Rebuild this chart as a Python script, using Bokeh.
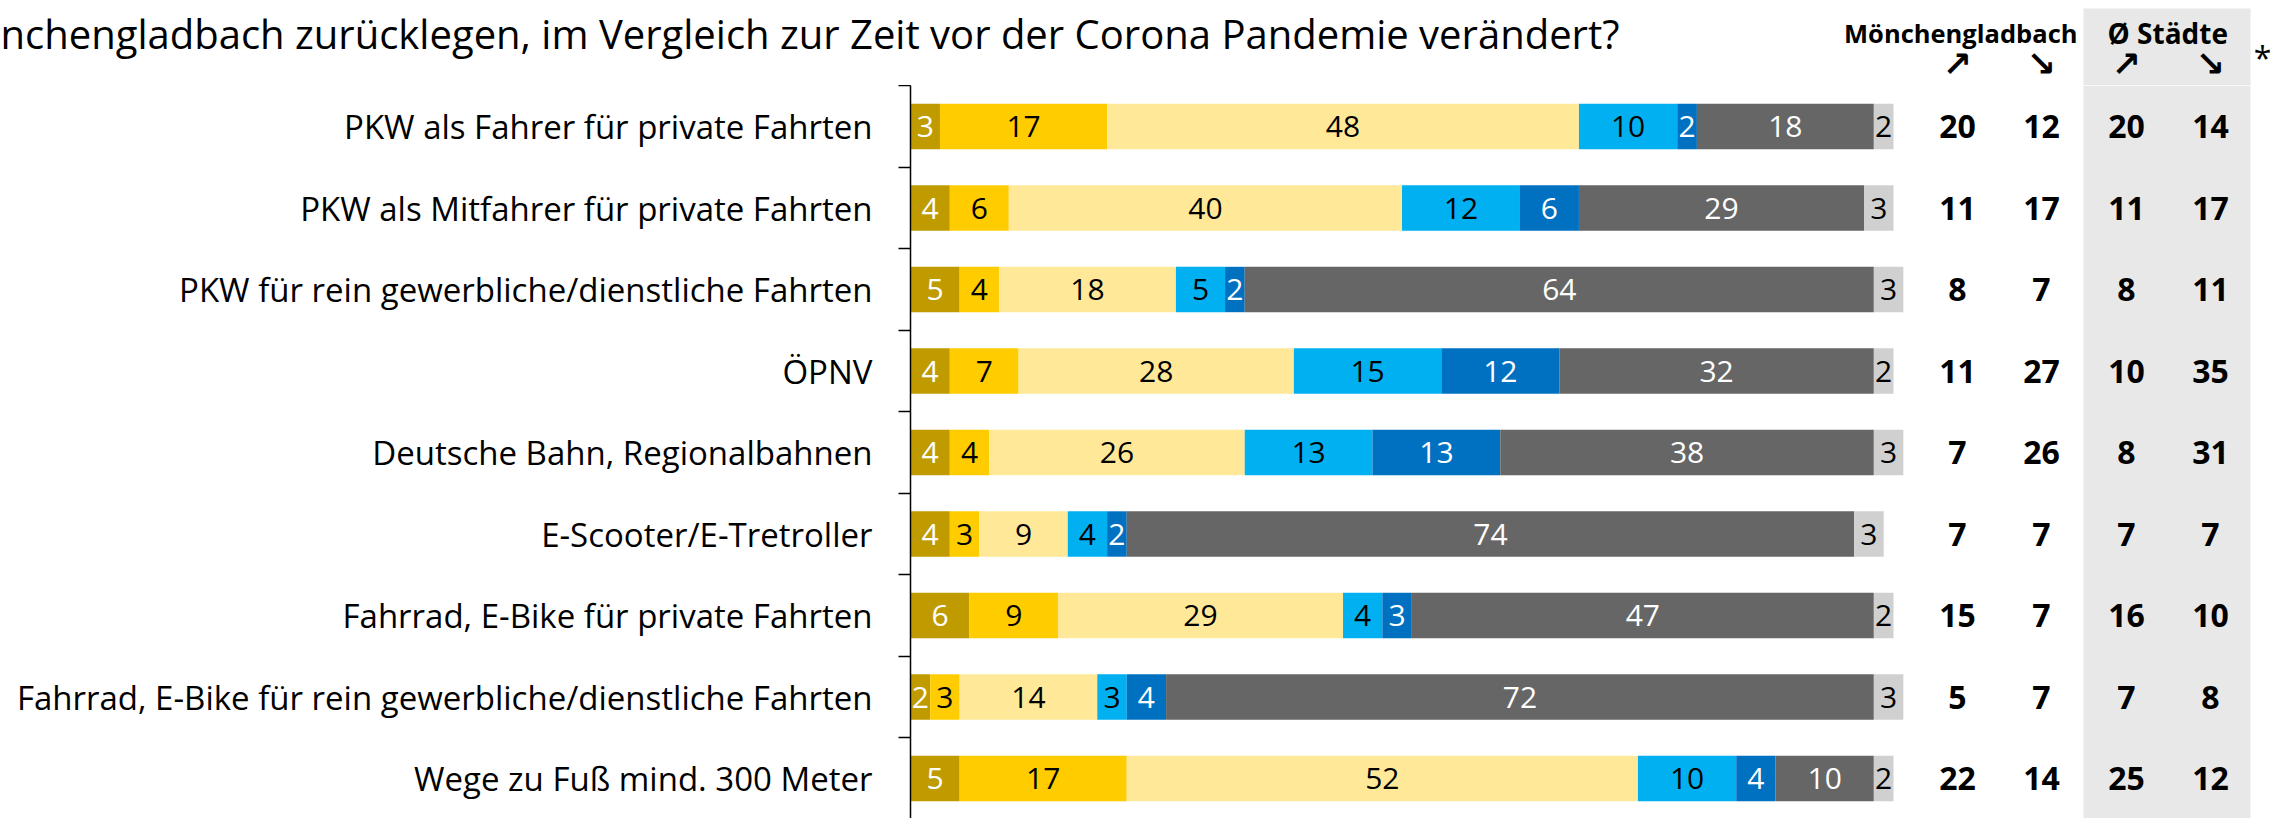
from bokeh.plotting import figure
from bokeh.layouts import column
from bokeh.models import Range1d, FixedTicker
from bokeh.core.properties import value
from bokeh.embed import file_html
from bokeh.resources import INLINE
import numpy as np

# ---------------- data ----------------
categories = [
    "PKW als Fahrer für private Fahrten",
    "PKW als Mitfahrer für private Fahrten",
    "PKW für rein gewerbliche/dienstliche Fahrten",
    "ÖPNV",
    "Deutsche Bahn, Regionalbahnen",
    "E-Scooter/E-Tretroller",
    "Fahrrad, E-Bike für private Fahrten",
    "Fahrrad, E-Bike für rein gewerbliche/dienstliche Fahrten",
    "Wege zu Fuß mind. 300 Meter",
]
series_names = ["viel häufiger", "etwas häufiger", "gleich geblieben", "etwas seltener",
                "viel seltener", "nutze ich nicht", "weiß nicht"]
viel_haeufiger = [3, 4, 5, 4, 4, 4, 6, 2, 5]
etwas_haeufiger = [17, 6, 4, 7, 4, 3, 9, 3, 17]
gleich = [48, 40, 18, 28, 26, 9, 29, 14, 52]
etwas_seltener = [10, 12, 5, 15, 13, 4, 4, 3, 10]
viel_seltener = [2, 6, 2, 12, 13, 2, 3, 4, 4]
nutze_nicht = [18, 29, 64, 32, 38, 74, 47, 72, 10]
weiss_nicht = [2, 3, 3, 2, 3, 3, 2, 3, 2]

mg_up = [20, 11, 8, 11, 7, 7, 15, 5, 22]
mg_down = [12, 17, 7, 27, 26, 7, 7, 7, 14]
staedte_up = [20, 11, 8, 10, 8, 7, 16, 7, 25]
staedte_down = [14, 17, 11, 35, 31, 7, 10, 8, 12]

title_text = "nchengladbach zurücklegen, im Vergleich zur Zeit vor der Corona Pandemie verändert?"
header_city = "Mönchengladbach"
header_avg = "Ø Städte"
arrow_labels = ["↗", "↘", "↗", "↘"]
footnote_mark = "*"

# ---------------- styles / layout ----------------
colors = ["#C09B00", "#FFCC00", "#FFE999", "#00B0F0", "#0070C0", "#666666", "#D0D0D0"]
text_colors = ["white", "black", "black", "black", "white", "white", "black"]
FONT = "Open Sans"

W, H = 2290, 818
TOP_H = 85            # height of header strip (= top category boundary)
MAIN_H = H - TOP_H
FRAME_LEFT = 910      # pixel of x = 0 / axis line
PX_PER_UNIT = 9.83    # pixels per percent
ROW0_PX = 126         # pixel of first row centre
ROW_STEP = 81.5       # pixels between rows
GREY_L, GREY_R = 2083, 2250
COL_PX = [1957, 2041, 2126, 2210]

n = len(categories)
ys = [n - i for i in range(n)]
y_top = n + (ROW0_PX - TOP_H) / ROW_STEP
y_bot = n - (H - ROW0_PX) / ROW_STEP
x_end = (W - FRAME_LEFT) / PX_PER_UNIT


def xpx(px):
    return (px - FRAME_LEFT) / PX_PER_UNIT


# ---------------- header strip ----------------
top = figure(width=W, height=TOP_H, x_range=Range1d(0, W), y_range=Range1d(TOP_H, 0),
             output_backend="svg", toolbar_location=None, x_axis_location=None,
             y_axis_location=None, min_border=0, frame_align=False)
top.outline_line_color = None
top.xgrid.visible = False
top.ygrid.visible = False
top.quad(left=[GREY_L], right=[GREY_R], top=[8], bottom=[TOP_H],
         fill_color="#E8E8E8", line_color=None)
top.text(x=[0], y=[33], text=[title_text], text_align="left", text_baseline="alphabetic",
         text_font=value(FONT), text_font_size="40px", text_color="black")
top.text(x=[2077], y=[32], text=[header_city], text_align="right", text_baseline="alphabetic",
         text_font=value(FONT), text_font_size="25.5px", text_font_style="bold", text_color="black")
top.text(x=[2107], y=[32], text=[header_avg], text_align="left", text_baseline="alphabetic",
         text_font=value(FONT), text_font_size="28px", text_font_style="bold", text_color="black")
top.text(x=COL_PX, y=[63] * 4, text=arrow_labels, text_align="center", text_baseline="middle",
         text_font=value("DejaVu Sans"), text_font_size="35px", text_font_style="bold",
         text_color="black")
top.text(x=[2262], y=[57], text=[footnote_mark], text_align="center", text_baseline="middle",
         text_font=value(FONT), text_font_size="32px", text_color="black")

# ---------------- main chart ----------------
p = figure(width=W, height=MAIN_H, x_range=Range1d(0, x_end), y_range=Range1d(y_bot, y_top),
           output_backend="svg", toolbar_location=None, x_axis_location=None,
           min_border_left=FRAME_LEFT, min_border_right=0, min_border_top=0, min_border_bottom=0,
           frame_align=False)
p.outline_line_color = None
p.xgrid.visible = False
p.ygrid.visible = False

p.quad(left=[xpx(GREY_L)], right=[xpx(GREY_R)], bottom=[y_bot], top=[y_top],
       fill_color="#E8E8E8", line_color=None)

series = [viel_haeufiger, etwas_haeufiger, gleich, etwas_seltener, viel_seltener, nutze_nicht, weiss_nicht]
left = np.zeros(n)
for k, vals in enumerate(series):
    v = np.array(vals, dtype=float)
    right = left + v
    p.hbar(y=ys, left=left, right=right, height=0.557, fill_color=colors[k], line_color=None)
    p.text(x=(left + right) / 2, y=ys, text=[str(x) for x in vals],
           text_align="center", text_baseline="middle", text_color=text_colors[k],
           text_font=value(FONT), text_font_size="30px")
    left = right

for cx, vals in zip(COL_PX, [mg_up, mg_down, staedte_up, staedte_down]):
    p.text(x=[xpx(cx)] * n, y=ys, text=[str(v) for v in vals], text_align="center",
           text_baseline="middle", text_color="black", text_font=value(FONT),
           text_font_size="32px", text_font_style="bold")

ax = p.yaxis[0]
ax.ticker = FixedTicker(ticks=ys, minor_ticks=[y + 0.5 for y in ys] + [0.5])
ax.major_label_overrides = {y: c for y, c in zip(ys, categories)}
ax.axis_line_color = "black"
ax.axis_line_width = 1.5
ax.major_tick_line_color = None
ax.major_tick_out = 0
ax.major_tick_in = 0
ax.minor_tick_out = 12
ax.minor_tick_in = 0
ax.minor_tick_line_color = "black"
ax.minor_tick_line_width = 1.5
ax.major_label_standoff = 26
ax.major_label_text_font = FONT
ax.major_label_text_font_size = "33px"
ax.major_label_text_color = "black"

layout = column(top, p, spacing=0)
open("out.html", "w").write(file_html(layout, INLINE))
